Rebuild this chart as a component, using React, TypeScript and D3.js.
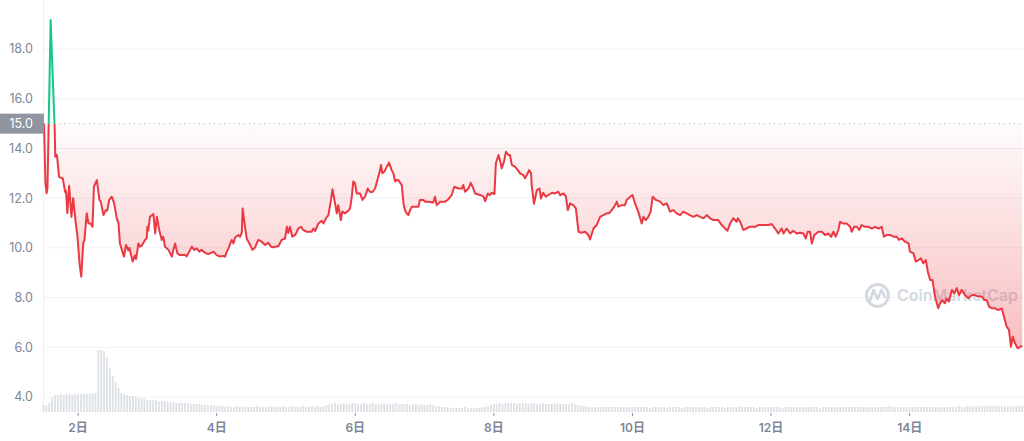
import React from "react";
import * as d3 from "d3";

// Time in hours since the 1st 00:00, price in USD
const hours = [
  12.2, 12.7, 13.1, 13.4, 14.5, 15.9, 16.1, 16.6, 16.8, 17.4, 18.4, 18.7, 19.5, 19.8, 20.3, 20.9, 21.7, 22.3, 23.2, 23.8,
  24.5, 25.1, 25.8, 26.2, 27.0, 27.6, 28.4, 29.0, 29.5, 30.5, 31.4, 31.9, 32.8, 33.6, 34.1, 34.8, 35.7, 36.5, 37.4, 38.0,
  38.5, 39.5, 39.9, 40.6, 41.4, 41.8, 42.9, 43.7, 44.1, 44.9, 45.5, 46.1, 47.2, 47.8, 48.0, 48.3, 48.9, 50.1, 50.7, 51.3,
  52.1, 53.0, 53.5, 54.1, 55.3, 56.5, 57.0, 57.6, 58.4, 59.3, 61.1, 61.6, 62.8, 63.4, 64.2, 65.1, 66.0,
  66.8, 68.0, 69.1, 70.9, 72.0, 73.2, 74.3, 74.9, 75.5, 76.1, 77.2, 77.8, 78.4, 79.5, 80.1, 80.7, 81.0, 81.8, 82.4, 83.6,
  84.4, 85.3, 86.4, 87.6, 88.8, 89.9, 90.8, 91.6, 93.4, 94.5, 95.7, 96.3, 96.8, 97.4, 98.2, 99.2, 100.3, 101.2, 102.0, 103.2,
  104.9, 105.5, 106.1, 107.2, 108.4, 109.0, 109.8, 110.7, 111.6, 112.1, 113.0, 113.6, 114.1, 115.0, 115.5, 116.5, 117.6, 118.2,
  118.8, 119.3, 119.9, 120.5, 121.7, 122.5, 123.4, 124.3, 125.1, 125.9, 126.9, 127.8, 128.6,
  128.9, 129.4, 130.1, 130.9, 131.7, 132.6, 133.2, 133.8, 134.4, 134.9, 136.1, 136.7, 137.2, 137.8, 138.4, 139.0, 139.6, 140.7,
  141.9, 142.4, 143.6, 144.2, 145.3, 147.0, 147.6, 148.2, 149.4, 151.1, 152.2, 153.4, 154.3, 155.7, 156.9, 157.4, 158.0, 159.2,
  160.0, 160.9, 161.5, 163.2, 164.4, 165.0, 165.9, 166.6, 167.3, 168.2, 168.7, 169.6, 170.1, 170.7, 171.5, 172.2, 173.0, 173.6,
  174.2, 175.3, 176.3, 177.1, 178.2, 178.8, 179.4, 180.2, 180.9, 181.1, 181.9, 182.9, 183.8, 184.3, 185.1, 186.0, 186.9, 188.1, 189.2,
  190.3, 191.0, 192.1, 192.9, 193.6, 194.4, 195.5, 196.4, 197.3, 198.4, 199.6, 200.7, 201.3, 202.5, 203.6, 204.8, 205.9, 207.1,
  207.9, 208.8, 209.7, 210.6, 211.1, 212.3, 213.4, 214.0, 215.2, 216.0, 216.9, 218.0, 219.2, 219.8, 220.6, 221.5, 222.3, 223.0,
  224.1, 225.6, 226.7, 227.9, 229.0, 230.2, 231.3, 232.5, 233.6, 234.8, 235.9, 237.1, 238.3, 239.4, 240.6, 241.7, 242.9, 244.0,
  245.7, 246.9, 248.1, 248.9, 249.8, 250.9, 252.1,
  252.5, 253.3, 254.4, 255.6, 256.7, 258.5, 259.6, 261.3, 263.1, 264.2, 265.4, 266.5, 267.7, 268.3, 269.4, 270.6, 271.7, 272.9,
  274.0, 275.2, 276.0, 276.7, 277.5, 278.1, 279.0, 280.4, 281.6, 282.7, 283.8, 284.8, 285.6, 286.4, 287.3, 287.9, 289.0, 290.2,
  291.4, 291.9, 292.8, 293.7, 294.5, 295.4, 296.6, 297.7, 298.9, 300.0, 301.2, 302.3, 303.1, 304.1, 305.2, 306.4, 307.5, 308.3,
  309.3, 310.4, 311.6, 312.1, 313.3, 314.1, 315.0, 315.9, 316.7, 317.6, 318.3, 319.1, 319.9, 320.6, 321.1, 321.9, 322.5, 323.3,
  324.2, 324.8, 325.6, 326.6, 327.5, 328.3, 329.1, 330.0, 331.2, 332.3, 333.5, 334.6, 335.8, 337.0, 337.9, 338.7, 339.5, 340.4,
  341.6, 342.7, 343.9, 344.8, 345.6, 346.4, 347.1, 347.7, 348.5, 349.4, 350.2, 351.0,
];

const prices = [
  15.0, 12.6, 12.2, 12.4, 19.17, 14.8, 13.67, 13.75, 13.6, 12.87, 12.8, 12.8, 12.26, 12.3, 11.4, 12.5, 11.25, 12.0, 11.0, 10.45,
  9.38, 8.84, 10.2, 10.3, 11.39, 10.99, 10.97, 10.85, 12.46, 12.73, 11.93, 11.85, 11.32, 11.52, 11.5, 11.93, 12.06, 11.79, 11.19, 11.0,
  10.18, 9.8, 9.65, 10.12, 9.9, 10.0, 9.45, 9.7, 9.55, 10.18, 10.05, 10.1, 10.32, 10.4, 10.85, 10.7, 11.25, 11.36, 10.58, 11.25,
  10.72, 10.32, 10.45, 10.05, 9.92, 9.65, 9.92, 10.18, 9.78, 9.71, 9.71, 9.66, 9.92, 10.05, 9.92, 9.98, 9.85,
  9.92, 9.8, 9.75, 9.85, 9.71, 9.65, 9.68, 9.65, 9.85, 9.98, 10.32, 10.18, 10.42, 10.52, 10.45, 10.61, 11.59, 10.85, 10.38, 10.12,
  9.92, 10.02, 10.32, 10.25, 10.12, 10.21, 10.05, 10.03, 10.08, 10.32, 10.38, 10.85, 10.6, 10.85, 10.45, 10.52, 10.78, 10.85, 10.72, 10.65,
  10.65, 10.78, 10.68, 10.98, 11.09, 10.98, 11.19, 11.32, 11.93, 12.36, 11.79, 11.39, 11.72, 11.12, 11.46, 11.39, 11.5, 11.59,
  12.06, 12.67, 12.6, 12.19, 12.19, 11.93, 12.06, 12.39, 12.26, 12.24, 12.4, 12.79, 13.13,
  13.34, 13.0, 13.07, 13.27, 13.43, 13.13, 13.0, 12.67, 12.73, 12.73, 12.53, 11.79, 11.52, 11.39, 11.32, 11.52, 11.66, 11.66,
  11.66, 11.93, 11.93, 11.86, 11.86, 11.83, 12.06, 11.72, 11.86, 11.86, 11.95, 12.13, 12.46, 12.39, 12.39, 12.53, 12.26, 12.39,
  12.62, 12.39, 12.19, 12.13, 12.06, 11.88, 12.19, 12.12, 12.22, 12.17, 13.4, 13.74, 13.54, 13.2, 13.47, 13.87, 13.74, 13.74,
  13.34, 13.27, 13.13, 13.0, 12.93, 12.8, 12.93, 13.13, 13.0, 12.53, 11.77, 12.33, 12.39, 11.99, 12.22, 12.06, 12.13, 12.22, 12.19,
  12.26, 12.12, 12.19, 12.09, 11.52, 11.79, 11.72, 11.59, 10.65, 10.61, 10.65, 10.52, 10.34, 10.78, 10.92, 11.25, 11.32, 11.39,
  11.39, 11.52, 11.66, 11.86, 11.66, 11.72, 11.72, 11.93, 12.06, 12.13, 11.79, 11.46, 10.98, 11.25, 11.12, 11.25, 11.46, 12.06,
  11.93, 11.86, 11.72, 11.79, 11.46, 11.52, 11.39, 11.32, 11.46, 11.39, 11.32, 11.25, 11.32, 11.25, 11.19, 11.32, 11.19, 11.12,
  11.12, 10.92, 10.78, 10.69, 10.98, 11.19, 11.05,
  11.19, 11.05, 10.72, 10.79, 10.85, 10.85, 10.92, 10.92, 10.92, 10.96, 10.78, 10.58, 10.78, 10.58, 10.78, 10.58, 10.69, 10.58,
  10.61, 10.58, 10.38, 10.65, 10.65, 10.18, 10.52, 10.65, 10.65, 10.52, 10.58, 10.45, 10.65, 10.45, 10.72, 11.05, 10.98, 10.98,
  10.85, 10.65, 10.85, 10.85, 10.72, 10.92, 10.85, 10.85, 10.78, 10.85, 10.78, 10.85, 10.45, 10.52, 10.52, 10.45, 10.45, 10.32,
  10.38, 10.25, 10.18, 9.85, 9.78, 9.45, 9.51, 9.58, 9.38, 9.51, 9.04, 8.71, 8.71, 8.17, 7.9, 7.57, 7.77, 7.9,
  7.77, 7.97, 7.84, 8.31, 8.17, 8.38, 8.1, 8.31, 8.1, 7.97, 8.1, 8.1, 8.04, 8.04, 7.9, 7.9, 7.64, 7.57,
  7.57, 7.5, 7.57, 7.17, 6.83, 6.7, 6.02, 6.43, 6.16, 5.96, 6.02, 6.05,
];

// Hourly trading volume (relative units), starting at hour 12 of the 1st
const volumeStartHour = 12;
const volumes = [
  7, 7, 9, 14, 17, 17, 18, 17, 18, 18, 17, 18,
  18, 18, 18, 18, 18, 19, 19, 62, 62, 61, 55, 44, 36, 30, 24, 19, 18, 17, 16, 16, 15, 14, 14, 13,
  12, 12, 12, 12, 11, 11, 11, 10, 10, 10, 9, 9, 9, 9, 9, 8, 8, 8, 8, 7, 7, 7, 7, 7,
  6, 6, 6, 5, 6, 5, 5, 6, 5, 5, 6, 5, 5, 5, 6, 5, 5, 5, 5, 6, 5, 5, 5, 6,
  5, 5, 6, 5, 5, 5, 6, 5, 5, 6, 5, 6, 5, 6, 7, 8, 8, 9, 8, 8, 9, 8, 8, 9,
  9, 8, 8, 9, 8, 8, 9, 8, 8, 8, 9, 8, 8, 8, 9, 8, 8, 8, 8, 7, 8, 8, 7, 8,
  7, 7, 8, 7, 6, 6, 5, 5, 5, 4, 4, 4, 4, 4, 5, 4, 4, 4, 4, 4, 5, 5, 6, 7,
  8, 8, 9, 8, 9, 9, 9, 9, 8, 9, 9, 9, 8, 9, 9, 8, 8, 9, 8, 8, 8, 9, 8, 8,
  8, 8, 8, 9, 8, 7, 7, 6, 6, 5, 5, 5, 5, 5, 5, 5, 5, 5, 5, 5, 5, 5, 5, 5,
  5, 5, 5, 5, 5, 5, 4, 5, 5, 5, 5, 5, 4, 5, 5, 5, 5, 4, 5, 5, 5, 5, 5, 5,
  5, 5, 4, 5, 5, 5, 5, 5, 4, 5, 5, 5, 5, 6, 5, 5, 5, 5, 5, 4, 5, 5, 5, 5,
  5, 5, 5, 5, 4, 5, 5, 5, 5, 5, 5, 5, 5, 5, 5, 5, 5, 4, 5, 5, 5, 5, 5, 5,
  5, 5, 5, 5, 5, 5, 5, 5, 5, 5, 5, 5, 5, 5, 5, 5, 5, 6, 5, 5, 5, 5, 5, 5,
  5, 5, 5, 5, 5, 5, 5, 5, 5, 5, 5, 5, 5, 5, 5, 5, 5, 6, 5, 5, 6, 6, 6, 6,
  6, 6, 6, 6, 6, 6, 6, 6, 6, 6, 6, 6, 6, 6, 6, 6,
];

const yTicks = [4, 6, 8, 10, 12, 14, 16, 18];
const xTickHours = [24, 72, 120, 168, 216, 264, 312];
const xTickLabels = ["2日", "4日", "6日", "8日", "10日", "12日", "14日"];
const baselinePrice = 15.0;
const timeDomain = [12.2, 351.6];
const priceDomain = [4, 20];

const RED = "#ea3943";
const GREEN = "#16c784";
const FONT = "Inter, 'Noto Sans CJK JP', sans-serif";

export default function App() {
  const W = 1024;
  const H = 441;
  const left = 44;
  const volBase = 412;

  const x = d3.scaleLinear().domain(timeDomain).range([left, W]);
  const y = d3.scaleLinear().domain(priceDomain).range([397, -0.6]);
  const vy = d3.scaleLinear().domain([0, 62]).range([0, 62]);

  const data = hours.map((h, i) => ({ h, p: prices[i] }));
  const lineGen = d3
    .line<{ h: number; p: number }>()
    .x((d) => x(d.h))
    .y((d) => y(d.p));
  const areaGen = d3
    .area<{ h: number; p: number }>()
    .x((d) => x(d.h))
    .y0(y(baselinePrice))
    .y1((d) => y(d.p));

  const linePath = lineGen(data) || "";
  const areaPath = areaGen(data) || "";
  const yb = y(baselinePrice);

  return (
    <div style={{ position: "absolute", left: 0, top: 0, width: W, height: H, background: "#fff" }}>
      <svg width={W} height={H} style={{ display: "block" }} fontFamily={FONT}>
        <defs>
          <linearGradient id="redFill" gradientUnits="userSpaceOnUse" x1="0" y1={yb} x2="0" y2={y(6)}>
            <stop offset="0" stopColor={RED} stopOpacity={0.02} />
            <stop offset="1" stopColor={RED} stopOpacity={0.33} />
          </linearGradient>
          <linearGradient id="greenFill" gradientUnits="userSpaceOnUse" x1="0" y1={yb} x2="0" y2={y(19)}>
            <stop offset="0" stopColor={GREEN} stopOpacity={0.02} />
            <stop offset="1" stopColor={GREEN} stopOpacity={0.25} />
          </linearGradient>
          <clipPath id="below">
            <rect x={0} y={yb} width={W} height={H - yb} />
          </clipPath>
          <clipPath id="above">
            <rect x={0} y={0} width={W} height={yb} />
          </clipPath>
        </defs>

        {/* grid */}
        {yTicks.map((t) => (
          <line key={t} x1={left} x2={W} y1={y(t)} y2={y(t)} stroke="#eff2f5" strokeWidth={1} />
        ))}
        <line x1={left - 0.5} x2={left - 0.5} y1={0} y2={volBase + 1} stroke="#eff2f5" strokeWidth={1} />

        {/* volume */}
        {volumes.map((v, i) => {
          const cx = x(volumeStartHour + i);
          const h = vy(v);
          return <rect key={i} x={cx - 0.9} y={volBase - h} width={1.8} height={h} fill="#dde1e6" />;
        })}

        {/* watermark */}
        <g opacity={0.9}>
          <circle cx={877.5} cy={295.5} r={11} fill="none" stroke="#cfd5dd" strokeWidth={3} />
          <path d="M870 301 L873.5 290 L877.5 299 L881.5 290 L885 297" fill="none" stroke="#cfd5dd" strokeWidth={2.6} strokeLinejoin="round" strokeLinecap="round" />
          <text x={897} y={301} fontSize={16} fontWeight={600} fill="#cfd5dd" textLength={121} lengthAdjust="spacingAndGlyphs">CoinMarketCap</text>
        </g>

        {/* areas */}
        <path d={areaPath} fill="url(#redFill)" clipPath="url(#below)" />
        <path d={areaPath} fill="url(#greenFill)" clipPath="url(#above)" />

        {/* baseline */}
        <line x1={left} x2={W} y1={yb} y2={yb} stroke="#a7adb8" strokeWidth={1} strokeDasharray="1 4" />

        {/* price line */}
        <path d={linePath} fill="none" stroke={RED} strokeWidth={2} strokeLinejoin="round" clipPath="url(#below)" />
        <path d={linePath} fill="none" stroke={GREEN} strokeWidth={2} strokeLinejoin="round" clipPath="url(#above)" />

        {/* y labels */}
        {yTicks.map((t) => (
          <text key={t} x={33} y={y(t)} dy="0.35em" textAnchor="end" fontSize={12.5} fill="#7d8698">
            {d3.format(".1f")(t)}
          </text>
        ))}
        <rect x={0} y={yb - 10} width={44} height={20} fill="#8f96a2" />
        <text x={33} y={yb} dy="0.35em" textAnchor="end" fontSize={12.5} fill="#ffffff">
          {d3.format(".1f")(baselinePrice)}
        </text>

        {/* x ticks */}
        {xTickHours.map((h, i) => (
          <g key={h} transform={`translate(${x(h)},0)`}>
            <line y1={413} y2={416} stroke="#8a92a2" strokeWidth={1} />
            <text y={428} dy="0.35em" textAnchor="middle" fontSize={12} fontWeight={600} fill="#7d8698">
              {xTickLabels[i]}
            </text>
          </g>
        ))}
      </svg>
    </div>
  );
}
